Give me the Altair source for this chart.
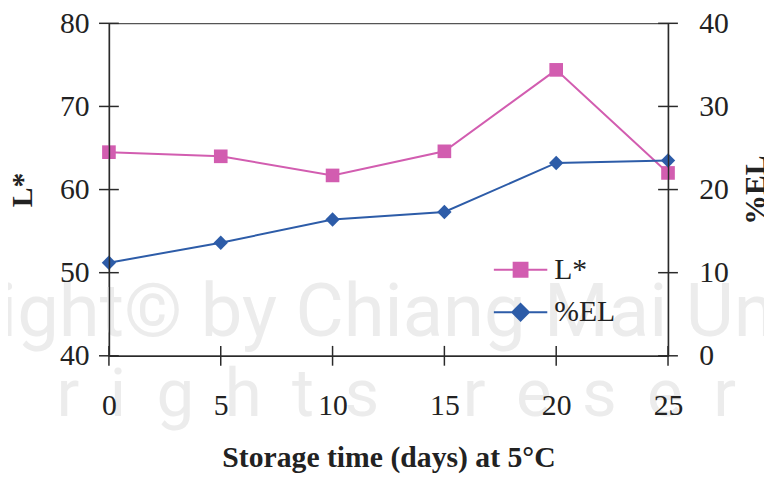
import altair as alt
import pandas as pd

# ---- data ----
days = [0, 5, 10, 15, 20, 25]
l_star = [64.5, 64.0, 61.7, 64.6, 74.4, 62.0]
el_pct = [11.2, 13.6, 16.4, 17.3, 23.2, 23.5]
series_names = ["L*", "%EL"]
series_colors = ["#d25db0", "#2d5ca8"]
left_ticks = [40, 50, 60, 70, 80]
right_ticks = [0, 10, 20, 30, 40]
x_ticks = [0, 5, 10, 15, 20, 25]
watermark_line1 = ["ight© by Chiang Mai University"]
GAP = " \u2009"
WORD_GAP = " " + "\u00a0" * 4
watermark_line2 = [GAP.join("rights") + WORD_GAP + GAP.join("reserved")]

PINK, BLUE = series_colors
AX = "#2a2a2a"
SERIF = "Liberation Serif"
WM = "#ececec"

df = pd.DataFrame({"day": days, "L": l_star, "EL": el_pct})

xscale = alt.Scale(domain=[0, 25], nice=False, zero=False)
lscale = alt.Scale(domain=[40, 80], nice=False, zero=False)
rscale = alt.Scale(domain=[0, 40], nice=False, zero=False)

x_axis = alt.Axis(
    values=x_ticks, ticks=False, tickSize=0, grid=False, zindex=1,
    domainColor=AX, domainWidth=1.5,
    labelFont=SERIF, labelFontSize=30, labelColor="#222", labelPadding=35,
    labelFlush=False, labelOverlap=False,
    title="Storage time (days) at 5°C", titleFont=SERIF, titleFontSize=30,
    titleFontWeight="bold", titleColor="#222", titlePadding=23,
)
left_axis = alt.Axis(
    values=left_ticks, ticks=False, tickSize=0, grid=False, zindex=1,
    domainColor=AX, domainWidth=1.5,
    labelFont=SERIF, labelFontSize=30, labelColor="#222", labelPadding=20,
    labelOverlap=False,
    title="L*", titleFont=SERIF, titleFontSize=30, titleFontWeight="bold",
    titleColor="#222", titlePadding=22,
)
right_axis = alt.Axis(
    orient="right", values=right_ticks, ticks=False, tickSize=0, grid=False,
    zindex=1, domainColor=AX, domainWidth=1.5,
    labelFont=SERIF, labelFontSize=30, labelColor="#222", labelPadding=31,
    labelOverlap=False,
    title="%EL", titleFont=SERIF, titleFontSize=30, titleFontWeight="bold",
    titleColor="#222", titlePadding=13, titleAngle=270, titleBaseline="top",
)

x_enc = alt.X("day:Q", scale=xscale, axis=x_axis)

# ---- watermark (faint, behind) ----
wm1 = alt.Chart(pd.DataFrame({"t": watermark_line1})).mark_text(
    align="left", baseline="alphabetic", font="Roboto",
    fontSize=75, color=WM
).encode(text="t:N", x=alt.value(-111), y=alt.value(316))
wm2 = alt.Chart(pd.DataFrame({"t": watermark_line2})).mark_text(
    align="left", baseline="alphabetic", font="Roboto",
    fontSize=68, color=WM
).encode(text="t:N", x=alt.value(-53), y=alt.value(397))

# ---- L* (left axis) ----
l_line = alt.Chart(df).mark_line(color=PINK, strokeWidth=2).encode(
    x=x_enc, y=alt.Y("L:Q", scale=lscale, axis=left_axis)
)
l_pts = alt.Chart(df).mark_point(
    shape="square", filled=True, size=190, color=PINK, opacity=1
).encode(x=alt.X("day:Q", scale=xscale), y=alt.Y("L:Q", scale=lscale))

left_cross = alt.Chart(pd.DataFrame({"v": left_ticks})).mark_tick(
    orient="horizontal", size=20, thickness=1.5, color=AX, opacity=1
).encode(x=alt.XDatum(0, scale=xscale), y=alt.Y("v:Q", scale=lscale))

bottom_cross = alt.Chart(pd.DataFrame({"d": x_ticks})).mark_tick(
    orient="vertical", size=20, thickness=1.5, color=AX, opacity=1
).encode(x=alt.X("d:Q", scale=xscale), y=alt.YDatum(40, scale=lscale))

sq_path = "M-1.35,0H1.35M-0.35,-0.35H0.35V0.35H-0.35Z"
di_path = "M-1.35,0H1.35M0,-0.42L0.42,0L0,0.42L-0.42,0Z"
leg = alt.Legend(
    orient="none", legendX=395, legendY=228, title=None, padding=0,
    symbolSize=1600, symbolStrokeWidth=2, labelFont=SERIF, labelFontSize=30,
    labelColor="#222", labelOffset=13, rowPadding=7, labelLimit=200,
)
legend_layer = alt.Chart(pd.DataFrame({"series": series_names})).mark_point(
    filled=True, clip=True, strokeWidth=2, opacity=1
).encode(
    x=alt.XDatum(-100, scale=xscale),
    y=alt.YDatum(60, scale=lscale),
    fill=alt.Fill("series:N", scale=alt.Scale(domain=series_names, range=series_colors), legend=leg),
    stroke=alt.Stroke("series:N", scale=alt.Scale(domain=series_names, range=series_colors), legend=leg),
    shape=alt.Shape("series:N", scale=alt.Scale(domain=series_names, range=[sq_path, di_path]), legend=leg),
)

left_group = alt.layer(wm1, wm2, l_line, l_pts, left_cross, bottom_cross, legend_layer)

# ---- %EL (right axis) ----
e_line = alt.Chart(df).mark_line(color=BLUE, strokeWidth=2).encode(
    x=alt.X("day:Q", scale=xscale), y=alt.Y("EL:Q", scale=rscale, axis=right_axis)
)
e_pts = alt.Chart(df).mark_point(
    shape="diamond", filled=True, size=210, color=BLUE, opacity=1
).encode(x=alt.X("day:Q", scale=xscale), y=alt.Y("EL:Q", scale=rscale))
right_cross = alt.Chart(pd.DataFrame({"v": right_ticks})).mark_tick(
    orient="horizontal", size=20, thickness=1.5, color=AX, opacity=1
).encode(x=alt.XDatum(25, scale=xscale), y=alt.Y("v:Q", scale=rscale))

right_group = alt.layer(e_line, e_pts, right_cross)

chart = alt.layer(left_group, right_group).resolve_scale(y="independent").properties(
    width=565, height=336,
    autosize=alt.AutoSizeParams(type="none"),
    padding={"left": 102, "top": 13, "right": 97, "bottom": 120},
    background="white",
).configure_view(stroke="#555", strokeWidth=1.2)

chart.save("out.html", embed_options={"renderer": "svg", "actions": False})
